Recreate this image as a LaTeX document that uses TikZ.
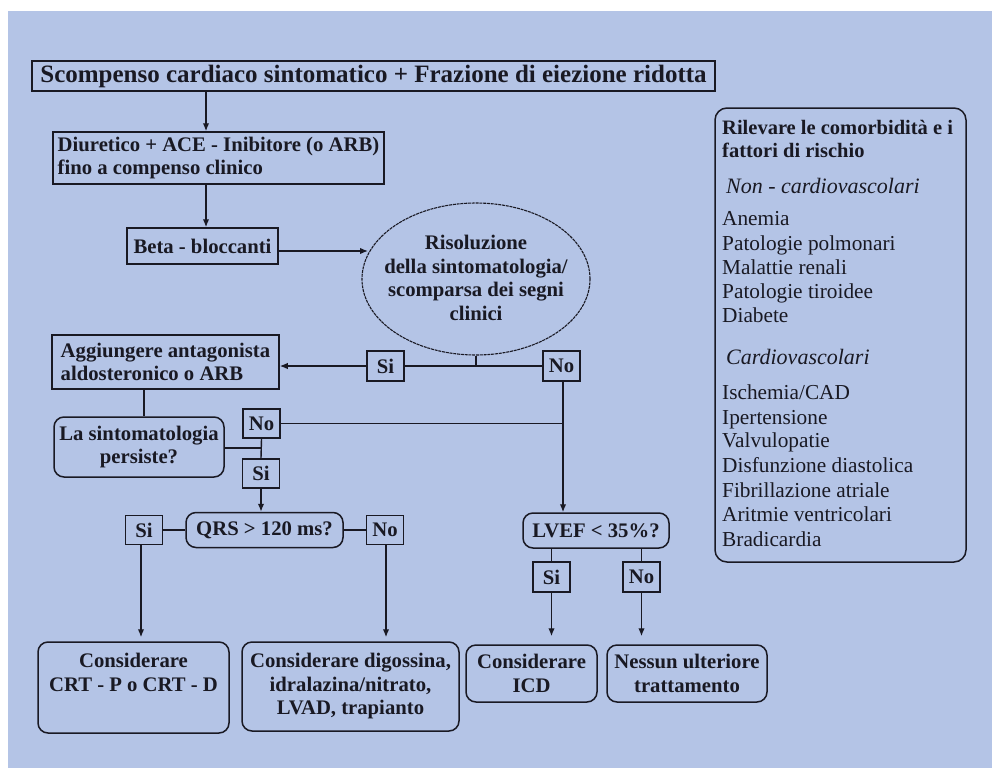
\documentclass[tikz,border=0pt]{standalone}
\usepackage{fontspec}
\setmainfont{Liberation Serif}
\usetikzlibrary{arrows.meta,calc,shapes.geometric}
\definecolor{bgblue}{RGB}{180,196,230}
\definecolor{ink}{RGB}{25,25,35}
\begin{document}
\begin{tikzpicture}[x=1pt,y=-1pt,
  every node/.style={inner sep=0pt, text=ink},
  fl/.style={font=\fontsize{20.7pt}{23.5pt}\selectfont\bfseries},
  bx/.style={fl, draw=ink, line width=1.5pt},
  rbx/.style={bx, rounded corners=10pt},
  yn/.style={bx, minimum width=37pt, minimum height=30pt},
  ln/.style={draw=ink, line width=1.4pt},
  arr/.style={ln, -{Latex[length=8pt,width=6.5pt]}},
  ptx/.style={anchor=west, font=\fontsize{21.3pt}{24pt}\selectfont, text height=14pt, text depth=4.5pt},
  pbx/.style={ptx, font=\fontsize{20.5pt}{24pt}\selectfont\bfseries},
  pix/.style={ptx, font=\fontsize{22pt}{24pt}\selectfont\itshape}
]
\useasboundingbox (0,0) rectangle (992,768);
\fill[white] (0,0) rectangle (992,768);
\fill[bgblue] (8,11) rectangle (992,768);

% guide coordinates for vertical connector lines
\coordinate (xa) at (206,0);
\coordinate (xb) at (144,0);
\coordinate (xc) at (563,0);
\coordinate (xd) at (141,0);
\coordinate (xe) at (386,0);
\coordinate (yl) at (0,448);

% flow nodes
\node[bx, font=\fontsize{25pt}{30pt}\selectfont\bfseries, minimum width=683pt, minimum height=30pt] (title) at (373.5,76) {Scompenso cardiaco sintomatico + Frazione di eiezione ridotta};
\node[bx, align=left, minimum width=331pt, minimum height=52pt] (diur) at (218.5,158) {Diuretico + ACE - Inibitore (o ARB)\\fino a compenso clinico};
\node[bx, minimum width=151pt, minimum height=36pt] (beta) at (202.5,246) {Beta - bloccanti};
\node[draw=ink, line width=1.1pt, dash pattern=on 3pt off 0.8pt, ellipse, minimum width=228pt, minimum height=152pt] (ell) at (476,279) {};
\node[fl, align=center] (ristxt) at (476,278) {Risoluzione\\della sintomatologia/\\scomparsa dei segni\\clinici};
\node[yn] (si1) at (385.5,366) {Si};
\node[yn] (no1) at (561.5,366) {No};
\node[bx, align=left, minimum width=227pt, minimum height=54pt] (agg) at (165.5,362) {Aggiungere antagonista\\aldosteronico o ARB};
\node[rbx, align=center, minimum width=170pt, minimum height=60pt] (la) at (139,447) {La sintomatologia\\persiste?};
\node[yn, minimum height=29pt] (no2) at (261.5,423.5) {No};
\node[yn, minimum height=29pt] (si2) at (261,473.5) {Si};
\node[rbx, minimum width=157pt, minimum height=35pt] (qrs) at (264.5,530) {QRS > 120 ms?};
\node[yn, minimum height=29pt] (si3) at (144,530) {Si};
\node[yn, minimum height=29pt] (no3) at (385,530) {No};
\node[rbx, align=center, minimum width=191pt, minimum height=91pt] (crt) at (133.5,687.5) {Considerare\\CRT - P o CRT - D\\\strut};
\node[rbx, align=center, minimum width=217pt, minimum height=89pt] (dig) at (350.5,686.5) {Considerare digossina,\\idralazina/nitrato,\\LVAD, trapianto};
\node[rbx, minimum width=146pt, minimum height=35pt] (lvef) at (596,530.5) {LVEF < 35\%?};
\node[yn] (si4) at (551.5,577) {Si};
\node[yn] (no4) at (641.5,577) {No};
\node[rbx, align=center, minimum width=131pt, minimum height=57pt] (icd) at (531.5,673.5) {Considerare\\ICD};
\node[rbx, align=center, minimum width=160pt, minimum height=57pt] (nes) at (687,673.5) {Nessun ulteriore\\trattamento};

% connectors
\draw[arr] (title.south -| xa) -- (diur.north -| xa);
\draw[arr] (diur.south -| xa) -- (beta.north -| xa);
\coordinate (bx) at ($(ell.center)+(-108,-28)$);
\draw[arr] (beta.east |- bx) -- (bx);
\draw[ln] (ell.south) -- (ell.south |- si1.east);
\draw[ln] (si1.east) -- (no1.west);
\draw[arr] (si1.west) -- (si1.west -| agg.east);
\draw[ln] (agg.south -| xb) -- (la.north -| xb);
\draw[ln] (la.east |- yl) -- (no2.south |- yl);
\draw[ln] (no2.south) -- (si2.north);
\draw[ln] (no2.east) -- (no2.east -| xc);
\draw[arr] (no1.south -| xc) -- (lvef.north -| xc);
\draw[arr] (si2.south) -- (si2.south |- qrs.north);
\draw[ln] (si3.east) -- (qrs.west);
\draw[ln] (qrs.east) -- (no3.west);
\draw[arr, shorten >=4pt] (si3.south -| xd) -- (crt.north -| xd);
\draw[arr, shorten >=4pt] (no3.south -| xe) -- (dig.north -| xe);
\draw[ln] (lvef.south -| si4.north) -- (si4.north);
\draw[ln] (lvef.south -| no4.north) -- (no4.north);
\draw[arr, shorten >=8pt] (si4.south) -- (si4.south |- icd.north);
\draw[arr, shorten >=8pt] (no4.south) -- (no4.south |- nes.north);

% right panel
\node[draw=ink, line width=1.5pt, rounded corners=12pt, minimum width=251pt, minimum height=454pt] (panel) at (840.5,335) {};
\node[pbx] (p1) at (722,130) {Rilevare le comorbidità e i};
\node[pbx] (p2) at (722,153) {fattori di rischio};
\node[pix] (p3) at (726,189) {Non - cardiovascolari};
\node[ptx] (p4) at (722,221) {Anemia};
\node[ptx] (p5) at (722,246) {Patologie polmonari};
\node[ptx] (p6) at (722,270) {Malattie renali};
\node[ptx] (p7) at (722,294) {Patologie tiroidee};
\node[ptx] (p8) at (722,318) {Diabete};
\node[pix] (p9) at (726,360) {Cardiovascolari};
\node[ptx] (p10) at (722,395) {Ischemia/CAD};
\node[ptx] (p11) at (722,420) {Ipertensione};
\node[ptx] (p12) at (722,443) {Valvulopatie};
\node[ptx] (p13) at (722,468) {Disfunzione diastolica};
\node[ptx] (p14) at (722,493) {Fibrillazione atriale};
\node[ptx] (p15) at (722,517) {Aritmie ventricolari};
\node[ptx] (p16) at (722,542) {Bradicardia};
\end{tikzpicture}
\end{document}
